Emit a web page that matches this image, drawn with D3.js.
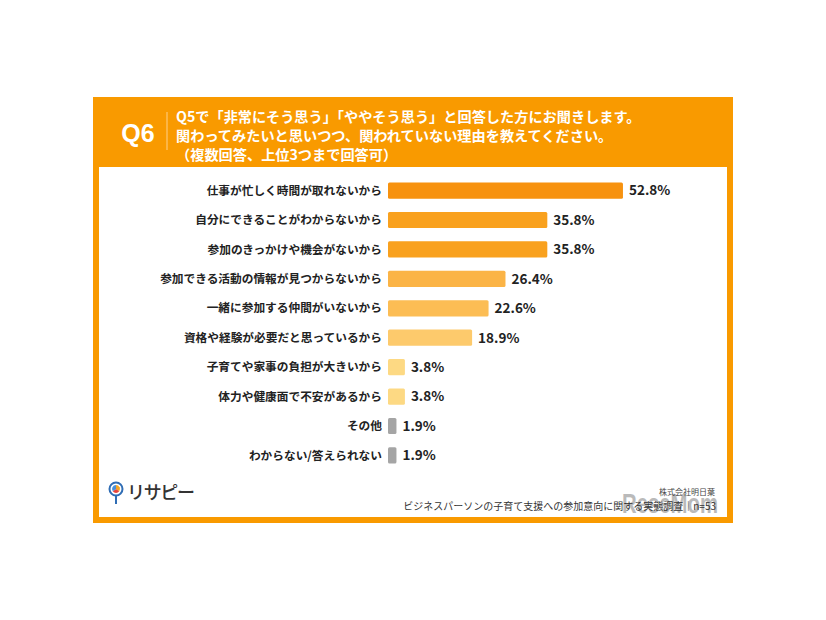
<!DOCTYPE html>
<html><head><meta charset="utf-8">
<script src="https://cdn.jsdelivr.net/npm/d3@7"></script>
<style>html,body{margin:0;padding:0;background:#fff;}svg{display:block;}</style>
</head><body>
<svg id="c" width="826" height="620"></svg>
<script>
const categories = [
  "仕事が忙しく時間が取れないから",
  "自分にできることがわからないから",
  "参加のきっかけや機会がないから",
  "参加できる活動の情報が見つからないから",
  "一緒に参加する仲間がいないから",
  "資格や経験が必要だと思っているから",
  "子育てや家事の負担が大きいから",
  "体力や健康面で不安があるから",
  "その他",
  "わからない/答えられない"
];
const values = [52.8, 35.8, 35.8, 26.4, 22.6, 18.9, 3.8, 3.8, 1.9, 1.9];
const barColors = ["#F7920F","#F9A11E","#F9A11E","#FBB446","#FCBD54","#FDCA6C","#FDD983","#FDD983","#A5A5A5","#A5A5A5"];
const titleLines = [
  "Q5で「非常にそう思う」「ややそう思う」と回答した方にお聞きします。",
  "関わってみたいと思いつつ、関われていない理由を教えてください。",
  "（複数回答、上位3つまで回答可）"
];
const qLabel = "Q6";
const footerText = "ビジネスパーソンの子育て支援への参加意向に関する実態調査｜n=53";
const companyText = "株式会社明日葉";

const svg = d3.select("#c");
const JP = "'Noto Sans CJK JP','Noto Sans',sans-serif";

// frame
svg.append("rect").attr("x",93).attr("y",97).attr("width",640).attr("height",426).attr("fill","#F99A00");
svg.append("rect").attr("x",99).attr("y",167).attr("width",628).attr("height",350).attr("fill","#ffffff");

// header
svg.append("text").attr("x",138).attr("y",142).attr("text-anchor","middle")
  .attr("font-family","'Liberation Sans','Noto Sans',sans-serif").attr("font-weight",700)
  .attr("font-size",25).attr("fill","#fff").text(qLabel);
svg.append("line").attr("x1",167).attr("x2",167).attr("y1",112).attr("y2",150)
  .attr("stroke","#FFD08A").attr("stroke-width",1);
svg.selectAll("text.title").data(titleLines).join("text").attr("class","title")
  .attr("x",176).attr("y",(d,i)=>122+i*19)
  .attr("font-family",JP).attr("font-weight",700).attr("font-size",14.2).attr("fill","#fff")
  .text(d=>d);

// chart
const x = d3.scaleLinear().domain([0, 60]).range([388, 388 + 267]);
const y = d3.scaleBand().domain(categories).range([176, 470]).paddingInner(0.45).paddingOuter(0.22);

const g = svg.append("g");
g.selectAll("rect.bar").data(values).join("rect").attr("class","bar")
  .attr("x", x(0)).attr("y",(d,i)=>y(categories[i]))
  .attr("width", d=>x(d)-x(0)).attr("height", y.bandwidth())
  .attr("rx",1.5).attr("fill",(d,i)=>barColors[i]);

g.selectAll("text.cat").data(categories).join("text").attr("class","cat")
  .attr("x",382).attr("y",d=>y(d)+y.bandwidth()/2).attr("dy","0.36em")
  .attr("text-anchor","end").attr("font-family",JP).attr("font-weight",700)
  .attr("font-size",11.7).attr("fill","#222").text(d=>d);

g.selectAll("text.val").data(values).join("text").attr("class","val")
  .attr("x",d=>x(d)+6).attr("y",(d,i)=>y(categories[i])+y.bandwidth()/2).attr("dy","0.36em")
  .attr("font-family",JP).attr("font-weight",700).attr("font-size",13.5).attr("fill","#222")
  .text(d=>d.toFixed(1)+"%");

// logo
const logo = svg.append("g");
logo.append("line").attr("x1",116).attr("x2",116).attr("y1",496).attr("y2",504)
  .attr("stroke","#2F6DB5").attr("stroke-width",2);
logo.append("circle").attr("cx",116).attr("cy",489).attr("r",6.5)
  .attr("fill","#fff").attr("stroke","#2F6DB5").attr("stroke-width",2);
const arc = d3.arc().innerRadius(0).outerRadius(4);
const pie = d3.pie().sort(null)([0.35,0.3,0.35]);
const pieCols = ["#F5A623","#E8443A","#4A90D9"];
logo.selectAll("path").data(pie).join("path").attr("transform","translate(116,489)")
  .attr("d",arc).attr("fill",(d,i)=>pieCols[i]);
logo.append("text").attr("x",127).attr("y",499).attr("font-family",JP).attr("font-weight",500)
  .attr("font-size",18).attr("fill","#333").attr("textLength",68).text("リサピー");

// footer
svg.append("text").attr("x",718).attr("y",513).attr("text-anchor","end")
  .attr("font-family","'Liberation Sans',sans-serif").attr("font-weight",700)
  .attr("font-size",28).attr("fill","#777").attr("opacity",0.5)
  .attr("textLength",96).attr("lengthAdjust","spacingAndGlyphs").text("ReseMom");
svg.append("text").attr("x",715).attr("y",495).attr("text-anchor","end")
  .attr("font-family",JP).attr("font-size",8).attr("fill","#444").text(companyText);
svg.append("text").attr("x",716).attr("y",510).attr("text-anchor","end")
  .attr("font-family",JP).attr("font-size",10).attr("fill","#333").text(footerText);
</script>
</body></html>
